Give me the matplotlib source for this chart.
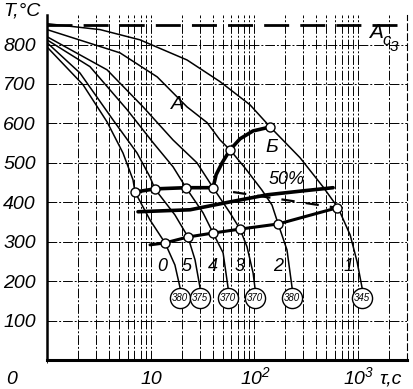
import numpy as np
import matplotlib
matplotlib.use('Agg')
import matplotlib.pyplot as plt
import matplotlib.transforms as mtransforms
from matplotlib.ticker import LogLocator, NullFormatter, FixedLocator

plt.rcParams['font.family'] = ['Liberation Sans', 'DejaVu Sans']
plt.rcParams['font.style'] = 'italic'
plt.rcParams['mathtext.fontset'] = 'custom'
plt.rcParams['mathtext.it'] = 'Liberation Sans:italic'
plt.rcParams['mathtext.rm'] = 'Liberation Sans:italic'

# cooling curves: time, s / temperature, C
t0 = [1, 2.23, 3.8, 5.42, 6.77, 7.08, 9.89, 13.8, 17.2, 19.3]
T0 = [794, 698, 604, 525, 457, 426, 355, 297, 241, 183]
t5 = [1, 2.08, 4.34, 7.41, 9.89, 11.0, 17.2, 23.0, 26.9, 30.1]
T5 = [805, 728, 609, 525, 464, 434, 368, 312, 254, 183]
t4 = [1, 2.6, 5.93, 10.6, 16.5, 22.0, 32.2, 40.2, 50.2, 56.1]
T4 = [812, 744, 635, 551, 490, 437, 373, 322, 272, 183]
t3 = [1, 3.8, 8.47, 16.5, 28.1, 40.2, 58.6, 73.2, 85.5, 97.8, 102]
T3 = [820, 736, 642, 558, 500, 437, 373, 332, 287, 221, 183]
t2 = [1, 5.07, 11.6, 22.5, 35.2, 46.9, 58.6, 81.8, 119, 149, 171, 208, 233]
T2 = [838, 779, 718, 642, 602, 558, 533, 487, 431, 393, 345, 279, 183]
t1 = [1, 3.25, 7.9, 22.5, 46.9, 91.5, 143, 278, 464, 648, 848, 989, 1105]
T1 = [853, 838, 812, 761, 706, 647, 591, 513, 439, 386, 317, 249, 183]

curve_names = ['0', '5', '4', '3', '2', '1']
label_t = [12.9, 22.5, 40.2, 73.2, 171, 809]
hardness = ['380', '375', '370', '370', '380', '345']

# bainite start (upper row + curve B)
bs_t = [7.08, 11.0, 22.0, 40.2, 43.0, 49.1, 58.6, 73.2, 97.8, 143]
bs_T = [426, 434, 437, 437, 470, 500, 533, 561, 581, 591]
bs_pts = [0, 1, 2, 3, 6, 9]
# 50 % line
half_t = [7.57, 24.1, 58.6, 134, 297, 580]
half_T = [376, 381, 401, 419, 429, 437]
# end of transformation
end_t = [9.89, 13.8, 23.0, 40.2, 73.2, 171, 634]
end_T = [292, 297, 312, 322, 332, 345, 386]
# dashed line
dash_t = [62.7, 634]
dash_T = [426, 386]
Ac3 = 850

xticks = [10, 100, 1000]
xlabels = ['10', r'10$^2$', r'10$^3$']
yticks = [100, 200, 300, 400, 500, 600, 700, 800]

fig = plt.figure(figsize=(4.13, 3.89), dpi=100)
ax = fig.add_axes([47/413, 1-360/389, 360/413, 345/389])
ax.set_xscale('log')
ax.set_xlim(1, 3000)
ax.set_ylim(0, 875)

# grid
gkw = dict(color='k', lw=0.7, dashes=(10, 2, 2, 2))
for d in [1, 10, 100, 1000]:
    for v in range(1, 10):
        if 1 < v*d < 3000:
            ax.axvline(v*d, **gkw)
for h in yticks:
    ax.axhline(h, **gkw)
ax.axhline(Ac3, color='k', lw=2, dashes=(9, 4))

# cooling curves
for t, T in [(t0, T0), (t5, T5), (t4, T4), (t3, T3), (t2, T2), (t1, T1)]:
    ax.plot(t, T, color='k', lw=1.1)

ax.plot(bs_t, bs_T, color='k', lw=2.6, solid_capstyle='round')
ax.plot(half_t, half_T, color='k', lw=2.6, solid_capstyle='round')
ax.plot(end_t, end_T, color='k', lw=2.2, solid_capstyle='round')
ax.plot(dash_t, dash_T, color='k', lw=1.6, dashes=(6, 5))

mk = dict(marker='o', ms=6.5, mfc='white', mec='k', mew=1.0, ls='none', zorder=5)
ax.plot([bs_t[i] for i in bs_pts], [bs_T[i] for i in bs_pts], **mk)
ax.plot(end_t[1:], end_T[1:], **mk)

# hardness circles
for t, hv in zip([t0, t5, t4, t3, t2, t1], hardness):
    ax.plot(t[-1], 157, marker='o', ms=14.5, mfc='white', mec='k', mew=1.0, zorder=6)
    ax.text(t[-1], 157, hv, ha='center', va='center', fontsize=7,
            family=['Liberation Sans Narrow', 'Liberation Sans'], zorder=7)

for name, lt in zip(curve_names, label_t):
    ax.text(lt, 236, name, ha='center', va='center', fontsize=13)

ax.text(18.4, 647, 'A', ha='center', va='center', fontsize=14)
ax.text(149, 538, 'Б', ha='center', va='center', fontsize=14)
ax.text(208, 457, '50%', ha='center', va='center', fontsize=13)
ax.text(1500, 830, 'A', ha='center', va='center', fontsize=15)
ax.text(1900, 810, 'c', ha='center', va='center', fontsize=12)
ax.text(2250, 795, '3', ha='center', va='center', fontsize=11)

# axes
ax.yaxis.set_major_locator(FixedLocator(yticks))
ax.xaxis.set_major_locator(FixedLocator(xticks))
ax.xaxis.set_minor_locator(LogLocator(subs=[]))
ax.xaxis.set_minor_formatter(NullFormatter())
ax.set_xticklabels([])
ax.tick_params(length=0, labelsize=14, pad=8)
trans = mtransforms.blended_transform_factory(ax.transData, ax.transAxes)
for xt, xl in zip(xticks, xlabels):
    ax.text(xt * 1.03, -24/345, xl, transform=trans, ha='center', va='baseline',
            fontsize=14, clip_on=False)
ax.spines['top'].set_visible(False)
ax.spines['right'].set_linestyle((0, (6, 3)))
ax.spines['right'].set_linewidth(0.8)
ax.spines['left'].set_linewidth(1.8)
ax.spines['bottom'].set_linewidth(2.2)

fig.text(3/413, 1-11/389, 'T,°C', ha='left', va='center', fontsize=14)
fig.text(12/413, 1-384/389, '0', ha='center', va='baseline', fontsize=14)
fig.text(390/413, 1-384/389, 'τ,c', ha='center', va='baseline', fontsize=14)

plt.savefig('out.png', dpi=100)
